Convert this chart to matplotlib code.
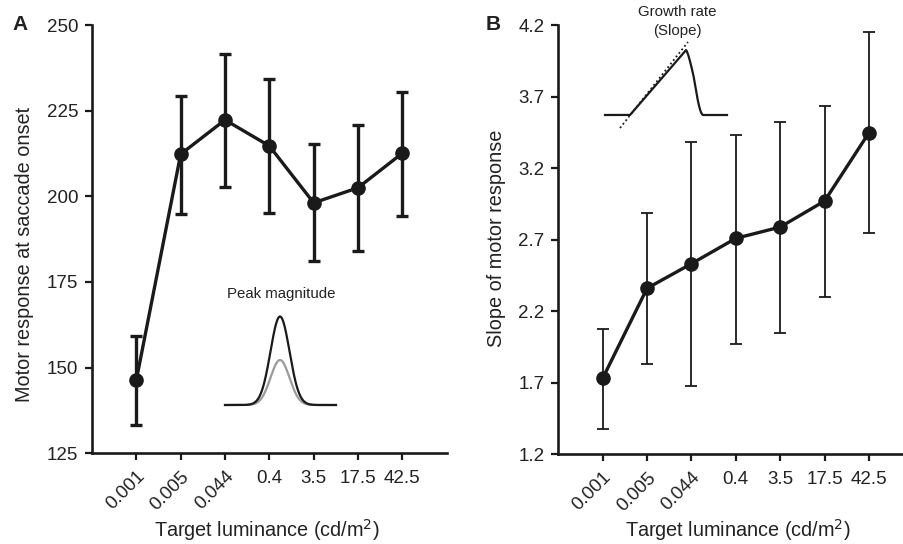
import numpy as np
import matplotlib
matplotlib.use("Agg")
import matplotlib.pyplot as plt
import matplotlib.transforms as mtrans

plt.rcParams['font.family'] = ['Liberation Sans', 'DejaVu Sans']

luminance = ["0.001", "0.005", "0.044", "0.4", "3.5", "17.5", "42.5"]

peak_mean = [146.4, 212.3, 222.3, 214.7, 198.1, 202.5, 212.6]
peak_upper = [159.2, 229.4, 241.4, 234.2, 215.3, 220.8, 230.4]
peak_lower = [133.2, 194.8, 202.8, 195.1, 181.0, 184.0, 194.3]

slope_mean = [1.731, 2.360, 2.532, 2.709, 2.788, 2.970, 3.447]
slope_upper = [2.073, 2.888, 3.380, 3.431, 3.524, 3.634, 4.151]
slope_lower = [1.377, 1.831, 1.675, 1.973, 2.046, 2.301, 2.744]

W, H = 904, 544
fig = plt.figure(figsize=(W / 100, H / 100), dpi=100)

txtc = '#222222'
linec = '#1a1a1a'


def fa(l, b, r, t):
    return [l / W, 1 - b / H, (r - l) / W, (b - t) / H]


axA = fig.add_axes(fa(92, 453.3, 446.7, 25))
axB = fig.add_axes(fa(558.3, 454.3, 904, 25))


def style(ax, ylim, yticks, ylabel, ytl, ylab_y, ylab_x, xlab_x):
    x = np.arange(len(luminance))
    for s in ['top', 'right']:
        ax.spines[s].set_visible(False)
    for s in ['left', 'bottom']:
        ax.spines[s].set_linewidth(1.9)
        ax.spines[s].set_color(linec)
    ax.set_ylim(*ylim)
    ax.set_yticks(yticks)
    ax.set_yticklabels(ytl)
    ax.set_xticks(x)
    ax.set_xticklabels(luminance)
    ax.tick_params(axis='both', direction='out', length=5, width=1.6,
                   color=linec, labelsize=13.5, labelcolor=txtc, pad=5)
    ax.tick_params(axis='x', pad=7)
    ax.set_ylabel(ylabel, fontsize=14.3, color=txtc)
    ax.yaxis.set_label_coords(ylab_x / W, 1 - ylab_y / H, transform=fig.transFigure)
    ax.set_xlabel('Target luminance (cd/m$^2$)', fontsize=14.3, color=txtc)
    ax.xaxis.set_label_coords(xlab_x / W, 1 - 517 / H, transform=fig.transFigure)
    for i, lab in enumerate(ax.get_xticklabels()):
        if i < 3:
            lab.set_rotation(45)
            lab.set_ha('right')
            lab.set_va('top')
            lab.set_rotation_mode('anchor')
            lab.set_transform(lab.get_transform() + mtrans.ScaledTranslation(0 / 100, 2 / 100, fig.dpi_scale_trans))
        else:
            lab.set_rotation(0)


x = np.arange(len(luminance))

# Panel A
pm = np.array(peak_mean)
yerrA = [pm - np.array(peak_lower), np.array(peak_upper) - pm]
axA.errorbar(x, pm, yerr=yerrA, fmt='o-', color=linec, lw=2.4, elinewidth=2.4,
             capsize=4.5, capthick=2.4, markersize=9.5, zorder=3)
axA.set_xlim(-1, 7)
style(axA, (125, 250), [125, 150, 175, 200, 225, 250],
      'Motor response at saccade onset', ['125', '150', '175', '200', '225', '250'], 254, 34, 267)

# Panel B
sm = np.array(slope_mean)
yerrB = [sm - np.array(slope_lower), np.array(slope_upper) - sm]
axB.errorbar(x, sm, yerr=yerrB, fmt='o-', color=linec, lw=2.4, elinewidth=1.3,
             capsize=4, capthick=1.3, markersize=9.5, zorder=3)
axB.set_xlim(-1, 6.79)
style(axB, (1.2, 4.2), [1.2, 1.7, 2.2, 2.7, 3.2, 3.7, 4.2],
      'Slope of motor response', ['1.2', '1.7', '2.2', '2.7', '3.2', '3.7', '4.2'], 238, 506, 738)

# Panel letters
fig.text(20 / W, 1 - 25 / H, 'A', fontsize=15, fontweight='bold', color=txtc, ha='center', va='center')
fig.text(493 / W, 1 - 25 / H, 'B', fontsize=15, fontweight='bold', color=txtc, ha='center', va='center')

# Schematic insets (pixel overlay)
ov = fig.add_axes([0, 0, 1, 1], zorder=5)
ov.set_xlim(0, W)
ov.set_ylim(H, 0)
ov.axis('off')
ov.patch.set_alpha(0)

ov.text(281.5, 294, 'Peak magnitude', fontsize=10.8, color=txtc, ha='center', va='center')
gx = np.linspace(225, 336, 400)
g = np.exp(-((gx - 280) / 9.5) ** 2 / 2)
ov.plot(gx, 405 - (405 - 360) * g, color='#9a9a9a', lw=1.6)
ov.plot(gx, 405 - (405 - 316.5) * g, color=linec, lw=1.6)

ov.text(677, 12, 'Growth rate', fontsize=10.8, color=txtc, ha='center', va='center')
ov.text(677, 31, '(Slope)', fontsize=10.8, color=txtc, ha='center', va='center')
sx = np.linspace(605, 727, 600)
sy = np.full_like(sx, 115.0)
rise = (sx >= 630) & (sx <= 686)
t = (sx[rise] - 630) / (686 - 630)
sy[rise] = 115 - 65 * t
top = (sx > 686) & (sx <= 705)
u = (sx[top] - 686) / (705 - 686)
sy[top] = 50 + 65 * (1 - np.cos(np.pi * np.clip(u * 1.1, 0, 1))) / 2 + 3 * np.sin(np.pi * np.clip(u * 2.5, 0, 1)) * (u < 0.4)
ov.plot(sx, sy, color=linec, lw=1.6)
ov.plot([620, 688], [128, 42], color=linec, lw=1.3, ls=(0, (1, 1.5)))

fig.savefig('out.png', dpi=100)
